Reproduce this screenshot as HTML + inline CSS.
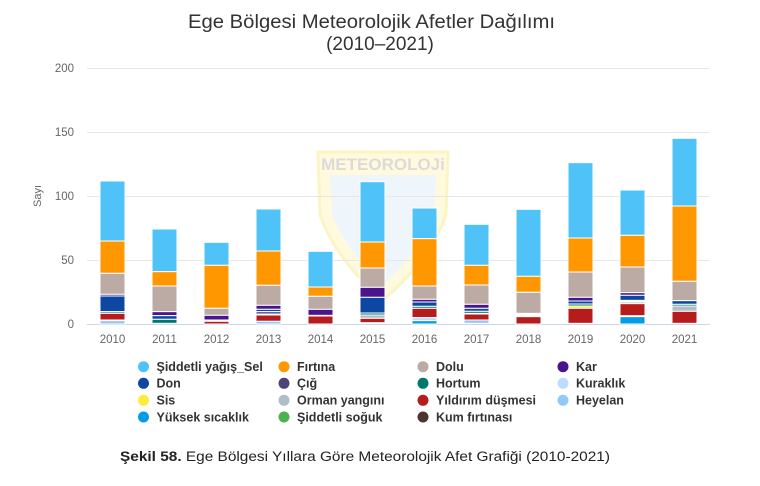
<!DOCTYPE html>
<html><head><meta charset="utf-8"><style>
body{margin:0;background:#fff;}
svg{display:block;font-family:"Liberation Sans","DejaVu Sans",sans-serif;}
</style></head><body>
<svg width="760" height="486" viewBox="0 0 760 486" xmlns="http://www.w3.org/2000/svg">
<rect width="760" height="486" fill="#fff"/>
<text x="188" y="28" font-size="19" fill="#333" textLength="367" lengthAdjust="spacingAndGlyphs">Ege Bölgesi Meteorolojik Afetler Dağılımı</text>
<text x="380" y="50" text-anchor="middle" font-size="19" fill="#333">(2010–2021)</text>
<!-- watermark -->
<g opacity="0.35">
<path d="M318 152 L448 152 L446 215 Q430 260 383 300 Q336 260 320 215 Z" fill="#fff3a0" stroke="#f5e05a" stroke-width="3"/>
<path d="M330 175 L436 175 L434 215 Q420 250 383 285 Q346 250 332 215 Z" fill="#cfe8f7"/>
<text x="383" y="170" text-anchor="middle" font-size="17" font-weight="bold" fill="#999">METEOROLOJi</text>
</g>
<g stroke="#e6e6e6" stroke-width="1">
<line x1="87" y1="68.5" x2="710" y2="68.5"/>
<line x1="87" y1="132.5" x2="710" y2="132.5"/>
<line x1="87" y1="196.5" x2="710" y2="196.5"/>
<line x1="87" y1="260.5" x2="710" y2="260.5"/>
</g>
<line x1="87" y1="324.5" x2="710" y2="324.5" stroke="#ccd6eb"/>
<g font-size="11.5" fill="#666" text-anchor="end">
<text x="74" y="72">200</text><text x="74" y="136">150</text><text x="74" y="200">100</text><text x="74" y="264">50</text><text x="74" y="328">0</text>
</g>
<text transform="translate(41,196) rotate(-90)" text-anchor="middle" font-size="11" fill="#666">Sayı</text>
<g id="bars" stroke="#fff" stroke-width="1"></g>
<g font-size="11.5" fill="#666" text-anchor="middle" id="xl"></g>
<g font-size="12.5" font-weight="bold" fill="#333" id="leg"></g>
<text x="120" y="461" font-size="13.5" fill="#222" textLength="490" lengthAdjust="spacingAndGlyphs"><tspan font-weight="bold">Şekil 58.</tspan> Ege Bölgesi Yıllara Göre Meteorolojik Afet Grafiği (2010-2021)</text>
<script>
var C={sel:"#4fc3f7",fir:"#ff9800",dolu:"#bcaaa4",kar:"#4a148c",don:"#0d47a1",cig:"#4e4577",hor:"#00796b",kur:"#bbdefb",sis:"#ffeb3b",orm:"#b0bec5",yil:"#b71c1c",hey:"#90caf9",yuk:"#039be5",sog:"#4caf50",kum:"#4e342e"};
var D=[
[["sel",153,333],["fir",333,430],["dolu",430,493],["kar",493,498],["don",498,545],["hor",545,550],["yil",550,570],["hey",572,583]],
[["sel",297,425],["fir",425,468],["dolu",468,545],["kar",545,557],["don",557,568],["hor",568,580]],
[["sel",337,406],["fir",406,535],["dolu",535,556],["kar",556,570],["yil",574,583]],
[["sel",237,363],["fir",363,466],["dolu",466,526],["kar",526,538],["don",538,545],["cig",545,552],["yil",555,574],["hey",574,583]],
[["sel",364,471],["fir",471,499],["dolu",499,538],["kar",538,556],["yil",558,583]],
[["sel",155,336],["fir",336,414],["dolu",414,472],["kar",472,502],["don",502,549],["hor",549,555],["orm",555,565],["yil",565,578]],
[["sel",234,326],["fir",326,468],["dolu",468,508],["kar",508,516],["don",516,529],["hor",529,535],["yil",535,563],["kur",563,572],["yuk",572,583]],
[["sel",283,406],["fir",406,465],["dolu",465,523],["kar",523,535],["don",535,544],["hor",544,550],["yil",552,570],["hey",570,580]],
[["sel",238,439],["fir",439,487],["dolu",487,550],["yil",560,583]],
[["sel",98,324],["fir",324,426],["dolu",426,502],["kar",502,513],["don",513,522],["hor",522,528],["sis",528,535],["yil",535,580]],
[["sel",180,316],["fir",316,411],["dolu",411,488],["kar",488,496],["don",496,511],["orm",516,521],["yil",521,557],["yuk",560,583]],
[["sel",25,228],["fir",228,454],["dolu",454,512],["don",512,523],["hor",523,528],["orm",528,544],["yil",544,580]]];
var ns="http://www.w3.org/2000/svg",b=document.getElementById("bars"),xl=document.getElementById("xl");
D.forEach(function(bar,i){var x=100+52*i;bar.forEach(function(s){var r=document.createElementNS(ns,"rect");var t=130+s[1]/3,bt=Math.min(130+s[2]/3,324);r.setAttribute("x",x);r.setAttribute("y",t);r.setAttribute("width",25);r.setAttribute("height",Math.max(bt-t,1));r.setAttribute("fill",C[s[0]]);b.appendChild(r);});
var tx=document.createElementNS(ns,"text");tx.setAttribute("x",x+12.5);tx.setAttribute("y",343);tx.textContent=2010+i;xl.appendChild(tx);});
var L=[["sel","Şiddetli yağış_Sel"],["fir","Fırtına"],["dolu","Dolu"],["kar","Kar"],["don","Don"],["cig","Çığ"],["hor","Hortum"],["kur","Kuraklık"],["sis","Sis"],["orm","Orman yangını"],["yil","Yıldırım düşmesi"],["hey","Heyelan"],["yuk","Yüksek sıcaklık"],["sog","Şiddetli soğuk"],["kum","Kum fırtınası"]];
var cx=[143.5,284,423,563],ry=[366.7,383.3,400.3,417],lg=document.getElementById("leg");
L.forEach(function(l,i){var c=cx[i%4],y=ry[Math.floor(i/4)];var ci=document.createElementNS(ns,"circle");ci.setAttribute("cx",c);ci.setAttribute("cy",y);ci.setAttribute("r",5.5);ci.setAttribute("fill",C[l[0]]);lg.appendChild(ci);var t=document.createElementNS(ns,"text");t.setAttribute("x",c+13);t.setAttribute("y",y+4.3);t.textContent=l[1];lg.appendChild(t);});
</script>
</svg>
</body></html>
